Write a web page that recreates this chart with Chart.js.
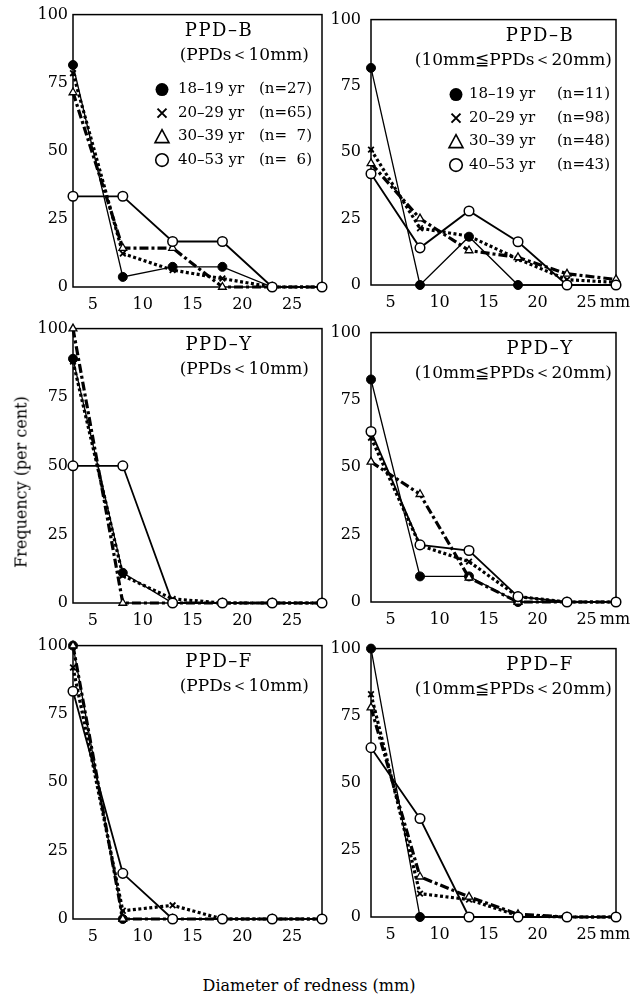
<!DOCTYPE html>
<html>
<head>
<meta charset="utf-8">
<script src="https://cdn.jsdelivr.net/npm/chart.js@4.4.1/dist/chart.umd.min.js"></script>
<style>
  body { margin: 0; background: #fff; width: 630px; height: 994px; position: relative; overflow: hidden; font-family: "DejaVu Serif", serif; }
  canvas { position: absolute; }
  .axt { position: absolute; font-size: 16px; color: #000; white-space: nowrap; transform: translate(-50%, -50%); }
  #ytitle { left: 21px; top: 482px; transform: translate(-50%, -50%) rotate(-90deg); }
  #xtitle { left: 309px; top: 985px; }
</style>
</head>
<body>
<canvas id="c1"></canvas>
<canvas id="c2"></canvas>
<canvas id="c3"></canvas>
<canvas id="c4"></canvas>
<canvas id="c5"></canvas>
<canvas id="c6"></canvas>
<div class="axt" id="ytitle">Frequency (per cent)</div>
<div class="axt" id="xtitle">Diameter of redness (mm)</div>
<script>
// class midpoints of redness diameter (mm)
const xMid = [3, 8, 13, 18, 23, 28];
const xTicks = [5, 10, 15, 20, 25];
const yTicks = [0, 25, 50, 75, 100];
const ageGroups = ['18–19 yr', '20–29 yr', '30–39 yr', '40–53 yr'];
const nSmallB = ['(n=27)', '(n=65)', '(n=\u20077)', '(n=\u20076)'];
const nMidB = ['(n=11)', '(n=98)', '(n=48)', '(n=43)'];

// PPD-B
const bSmall18 = [81.5, 3.7, 7.4, 7.4, 0, 0];
const bSmall20 = [78.5, 12.3, 6.2, 3.1, 0, 0];
const bSmall30 = [71.4, 14.3, 14.3, 0, 0, 0];
const bSmall40 = [33.3, 33.3, 16.7, 16.7, 0, 0];
const bMid18 = [81.8, 0, 18.2, 0, 0, 0];
const bMid20 = [51, 21.4, 18.4, 9.8, 2, 1];
const bMid30 = [45.8, 25, 13, 10.4, 4.2, 2.1];
const bMid40 = [41.9, 14, 27.9, 16.3, 0, 0];
// PPD-Y
const ySmall18 = [89, 11, 0, 0, 0, 0];
const ySmall20 = [88, 10, 1.5, 0, 0, 0];
const ySmall30 = [100, 0, 0, 0, 0, 0];
const ySmall40 = [50, 50, 0, 0, 0, 0];
const yMid18 = [82.6, 9.5, 9.5, 0, 0, 0];
const yMid20 = [61, 21, 15, 2, 0, 0];
const yMid30 = [52, 40, 9, 0, 0, 0];
const yMid40 = [63.3, 21.2, 19.1, 2, 0, 0];
// PPD-F
const fSmall18 = [100, 0, 0, 0, 0, 0];
const fSmall20 = [92, 3, 5, 0, 0, 0];
const fSmall30 = [100, 0, 0, 0, 0, 0];
const fSmall40 = [83.3, 16.7, 0, 0, 0, 0];
const fMid18 = [100, 0, 0, 0, 0, 0];
const fMid20 = [83, 8.7, 6.5, 0.5, 0, 0];
const fMid30 = [78, 15, 7.5, 1, 0, 0];
const fMid40 = [63.1, 36.7, 0, 0, 0, 0];

const FONT = '"DejaVu Serif", serif';

const seriesStyle = [
  { pointStyle: 'circle', radius: 4.5, bg: '#000', bw: 1, lw: 1.3, dash: [] },
  { pointStyle: 'crossRot', radius: 4, bg: '#000', bw: 1.8, lw: 3.2, dash: [3, 2.5] },
  { pointStyle: 'triangle', radius: 4.5, bg: '#fff', bw: 1.3, lw: 3.2, dash: [9, 3, 3, 3] },
  { pointStyle: 'circle', radius: 4.8, bg: '#fff', bw: 1.5, lw: 1.8, dash: [] }
];

const cols = [
  { left: 0, width: 330, yW: 73, padR: 8, tickPad: 5, titleDx: 146, subDx: 13, legMark: 89, legText: 105, legEnd: 10, mm: false },
  { left: 310, width: 320, yW: 61, padR: 14, tickPad: 10, titleDx: 169, subDx: 4, legMark: 85, legText: 98, legEnd: 6, mm: true }
];

const panels = [
  { id: 'c1', col: 0, top: 12, bottom: 287, title: 'PPD–B', sub: '(PPDs＜10mm)', ns: nSmallB, series: [bSmall18, bSmall20, bSmall30, bSmall40] },
  { id: 'c2', col: 1, top: 12, bottom: 285, title: 'PPD–B', sub: '(10mm≦PPDs＜20mm)', ns: nMidB, series: [bMid18, bMid20, bMid30, bMid40] },
  { id: 'c3', col: 0, top: 326, bottom: 603, title: 'PPD–Y', sub: '(PPDs＜10mm)', ns: null, series: [ySmall18, ySmall20, ySmall30, ySmall40] },
  { id: 'c4', col: 1, top: 325, bottom: 602, title: 'PPD–Y', sub: '(10mm≦PPDs＜20mm)', ns: null, series: [yMid18, yMid20, yMid30, yMid40] },
  { id: 'c5', col: 0, top: 643, bottom: 919, title: 'PPD–F', sub: '(PPDs＜10mm)', ns: null, series: [fSmall18, fSmall20, fSmall30, fSmall40] },
  { id: 'c6', col: 1, top: 641, bottom: 917, title: 'PPD–F', sub: '(10mm≦PPDs＜20mm)', ns: null, series: [fMid18, fMid20, fMid30, fMid40] }
];

const PAD_T = 12;
const X_H = 34;
const X_PAD = 8;

function drawLegendMark(ctx, i, x, y) {
  ctx.save();
  ctx.strokeStyle = '#000';
  ctx.fillStyle = '#000';
  ctx.setLineDash([]);
  if (i === 0) {
    ctx.beginPath(); ctx.arc(x, y, 6.5, 0, Math.PI * 2); ctx.fill();
  } else if (i === 1) {
    ctx.lineWidth = 2;
    ctx.beginPath();
    ctx.moveTo(x - 4.5, y - 4.5); ctx.lineTo(x + 4.5, y + 4.5);
    ctx.moveTo(x + 4.5, y - 4.5); ctx.lineTo(x - 4.5, y + 4.5);
    ctx.stroke();
  } else if (i === 2) {
    ctx.lineWidth = 1.6;
    ctx.beginPath();
    ctx.moveTo(x, y - 7); ctx.lineTo(x + 7, y + 6); ctx.lineTo(x - 7, y + 6); ctx.closePath();
    ctx.stroke();
  } else {
    ctx.lineWidth = 1.6;
    ctx.beginPath(); ctx.arc(x, y, 6.3, 0, Math.PI * 2); ctx.stroke();
  }
  ctx.restore();
}

const panelDeco = {
  id: 'panelDeco',
  beforeDatasetsDraw(chart, args, opts) {
    const a = chart.chartArea;
    const ctx = chart.ctx;
    ctx.save();
    ctx.strokeStyle = '#000';
    ctx.lineWidth = 1.5;
    ctx.strokeRect(a.left, a.top, a.right - a.left, a.bottom - a.top);
    ctx.restore();
  },
  afterDraw(chart, args, opts) {
    const a = chart.chartArea;
    const ctx = chart.ctx;
    const c = opts.col;
    ctx.save();
    ctx.fillStyle = '#000';
    ctx.textBaseline = 'middle';
    ctx.font = '18px ' + FONT;
    ctx.letterSpacing = '1.5px';
    ctx.textAlign = 'center';
    ctx.fillText(opts.title, a.left + c.titleDx, a.top + 17);
    ctx.letterSpacing = '0px';
    ctx.font = '17px ' + FONT;
    ctx.textAlign = 'right';
    ctx.fillText(opts.sub, a.right - c.subDx, a.top + 41);
    if (opts.ns) {
      ctx.font = '15px ' + FONT;
      ageGroups.forEach((g, i) => {
        const y = a.top + 75 + 23.5 * i;
        drawLegendMark(ctx, i, a.left + c.legMark, y);
        ctx.textAlign = 'left';
        ctx.fillText(g, a.left + c.legText, y);
        ctx.textAlign = 'right';
        ctx.fillText(opts.ns[i], a.right - c.legEnd, y);
      });
    }
    if (c.mm) {
      const xs = chart.scales.x;
      ctx.font = '16px ' + FONT;
      const w = ctx.measureText('25').width;
      ctx.textAlign = 'left';
      ctx.fillText('mm', xs.getPixelForValue(25) + w / 2 + 3, xs.top + X_PAD + 9.6);
    }
    ctx.restore();
  }
};

panels.forEach((p) => {
  const c = cols[p.col];
  const el = document.getElementById(p.id);
  const h = p.bottom - p.top + PAD_T + X_H;
  el.width = c.width;
  el.height = h;
  el.style.left = c.left + 'px';
  el.style.top = (p.top - PAD_T) + 'px';

  const datasets = p.series.map((vals, i) => {
    const s = seriesStyle[i];
    return {
      label: ageGroups[i],
      data: xMid.map((x, j) => ({ x, y: vals[j] })),
      borderColor: '#000',
      borderWidth: s.lw,
      borderDash: s.dash,
      borderCapStyle: 'butt',
      pointStyle: s.pointStyle,
      pointRadius: s.radius,
      pointBackgroundColor: s.bg,
      pointBorderColor: '#000',
      pointBorderWidth: s.bw,
      tension: 0,
      fill: false,
      clip: false,
      order: 3 - i
    };
  });

  new Chart(el, {
    type: 'line',
    data: { datasets },
    options: {
      responsive: false,
      animation: false,
      events: [],
      layout: { padding: { top: PAD_T, right: c.padR, left: 0, bottom: 0 } },
      plugins: {
        legend: { display: false },
        tooltip: { enabled: false },
        panelDeco: { col: c, title: p.title, sub: p.sub, ns: p.ns }
      },
      scales: {
        x: {
          type: 'linear',
          min: 3,
          max: 28,
          afterBuildTicks: (s) => { s.ticks = xTicks.map((v) => ({ value: v })); },
          afterFit: (s) => { s.height = X_H; },
          grid: { display: false, drawTicks: false },
          border: { display: false },
          ticks: { color: '#000', padding: X_PAD, font: { family: FONT, size: 16 }, maxRotation: 0, autoSkip: false }
        },
        y: {
          min: 0,
          max: 100,
          afterBuildTicks: (s) => { s.ticks = yTicks.map((v) => ({ value: v })); },
          afterFit: (s) => { s.width = c.yW; },
          grid: { display: false, drawTicks: false },
          border: { display: false },
          ticks: { color: '#000', padding: c.tickPad, font: { family: FONT, size: 16 } }
        }
      }
    },
    plugins: [panelDeco]
  });
});
</script>
</body>
</html>
